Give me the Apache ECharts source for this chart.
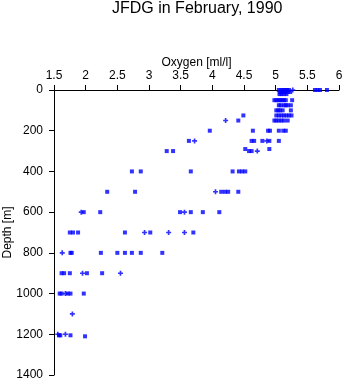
<!DOCTYPE html>
<html>
<head>
<meta charset="utf-8">
<script src="https://cdn.jsdelivr.net/npm/echarts@6/dist/echarts.min.js"></script>
<style>
html,body{margin:0;padding:0;background:#fff;}
#chart{width:345px;height:384px;}
</style>
</head>
<body>
<div id="chart"></div>
<script>
const titleText = "JFDG in February, 1990";
const xName = "Oxygen [ml/l]";
const yName = "Depth [m]";
const xTicks = {min: 1.5, max: 6, interval: 0.5};
const yTicks = {min: 0, max: 1400, interval: 200};

// [oxygen ml/l, depth m] — square markers
const squareObs = [
  [5.05,0],[5.09,0],[5.12,0],[5.15,0],[5.18,0],[5.21,0],[5.62,0],[5.66,0],[5.70,0],[5.81,0],
  [5.07,10],[5.11,10],[5.15,10],[5.19,10],[5.23,10],
  [5.06,20],[5.09,20],[5.13,20],[5.17,20],
  [4.98,50],[5.01,50],[5.04,50],[5.07,50],[5.10,50],[5.13,50],[5.16,50],[5.26,50],
  [5.05,75],[5.08,75],[5.13,75],[5.16,75],[5.19,75],[5.24,75],
  [5.01,100],[5.04,100],[5.07,100],[5.11,100],[5.24,100],
  [4.49,125],[5.01,125],[5.05,125],[5.09,125],[5.13,125],[5.17,125],[5.21,125],[5.25,125],
  [4.41,150],[4.98,150],[5.01,150],[5.05,150],[5.09,150],[5.13,150],[5.19,150],
  [3.96,200],[4.64,200],[4.88,200],[4.91,200],[5.05,200],[5.12,200],[5.16,200],
  [3.63,250],[4.62,250],[4.66,250],[4.79,250],[4.90,250],[5.05,250],
  [4.52,290],[4.90,290],
  [3.28,300],[3.38,300],[4.58,300],[4.62,300],
  [2.73,400],[2.87,400],[3.66,400],[4.32,400],[4.42,400],[4.47,400],[4.52,400],
  [2.34,500],[2.78,500],[4.14,500],[4.20,500],[4.25,500],[4.41,500],
  [1.97,600],[2.23,600],[3.49,600],[3.66,600],[3.85,600],[4.11,600],
  [1.75,700],[1.80,700],[1.88,700],[2.62,700],[3.02,700],[3.70,700],
  [1.76,800],[1.78,800],[2.24,800],[2.50,800],[2.62,800],[2.73,800],[2.87,800],[3.21,800],
  [1.62,900],[1.66,900],[1.75,900],[2.02,900],[2.26,900],
  [1.59,1000],[1.62,1000],[1.72,1000],[1.76,1000],[1.97,1000],
  [1.58,1205],[1.60,1205],[1.76,1205],[1.99,1210]
];

// [oxygen ml/l, depth m] — plus markers
const plusObs = [
  [5.27,0],[4.21,150],[3.72,250],[4.86,250],[4.71,300],[4.05,500],
  [1.93,600],[3.56,600],[2.93,700],[3.31,700],[3.56,700],
  [1.63,800],[1.95,900],[2.55,900],[1.68,1000],[1.79,1100],[1.56,1200],[1.68,1200]
];

const font = "'Liberation Sans', Arial, Helvetica, sans-serif";
const chart = echarts.init(document.getElementById('chart'), null, {renderer: 'canvas'});
chart.setOption({
  animation: false,
  backgroundColor: '#fff',
  title: {
    text: titleText, left: 112, top: 1, padding: [0,0,0,0],
    textStyle: {fontFamily: font, fontSize: 16, fontWeight: 'normal', color: '#000'}
  },
  grid: {left: 54, right: 6, top: 90, bottom: 9, containLabel: false, outerBoundsMode: 'none'},
  xAxis: {
    type: 'value', position: 'top',
    min: xTicks.min, max: xTicks.max, interval: xTicks.interval,
    name: xName, nameLocation: 'middle', nameGap: 21, nameMoveOverlap: false,
    nameTextStyle: {fontFamily: font, fontSize: 12, color: '#000'},
    axisLine: {show: true, onZero: false, lineStyle: {color: '#000', width: 1}},
    axisTick: {show: true, length: 5, inside: false, lineStyle: {color: '#000'}},
    axisLabel: {fontFamily: font, fontSize: 12, color: '#000', margin: 8,
      formatter: v => String(v)},
    splitLine: {show: false}
  },
  yAxis: {
    type: 'value', inverse: true,
    min: yTicks.min, max: yTicks.max, interval: yTicks.interval,
    name: yName, nameLocation: 'middle', nameGap: 40, nameRotate: 90, nameMoveOverlap: false,
    nameTextStyle: {fontFamily: font, fontSize: 12, color: '#000'},
    axisLine: {show: true, onZero: false, lineStyle: {color: '#000', width: 1}},
    axisTick: {show: true, length: 5, inside: false, lineStyle: {color: '#000'}},
    axisLabel: {fontFamily: font, fontSize: 12, color: '#000', margin: 11,
      formatter: v => String(v)},
    splitLine: {show: false}
  },
  series: [
    {
      type: 'scatter', data: squareObs, symbol: 'rect', symbolSize: 4,
      itemStyle: {color: '#0000ff'}
    },
    {
      type: 'scatter', data: plusObs,
      symbol: 'path://M1,0L2,0L2,1L3,1L3,2L2,2L2,3L1,3L1,2L0,2L0,1L1,1Z', symbolSize: 5,
      itemStyle: {color: '#0000ff'}
    }
  ]
});
</script>
</body>
</html>
